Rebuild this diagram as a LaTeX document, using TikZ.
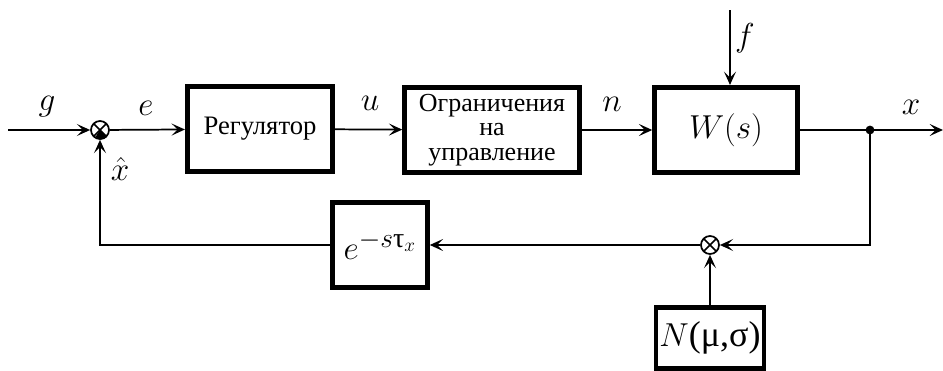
\documentclass[tikz,border=0pt]{standalone}
\usepackage{amsmath}
\usepackage{fontspec}
\newfontfamily\serifcyr{Liberation Serif}
\usetikzlibrary{arrows.meta}
\tikzset{
  px/.style={x=0.75pt,y=-0.75pt},
  blk/.style={draw,line width=3.6pt,inner sep=0pt,align=center},
  sig/.style={line width=1.3pt,-{Stealth[length=10pt,width=9pt,inset=4.5pt]}},
  wire/.style={line width=1.3pt},
  lbl/.style={font=\fontsize{24}{26}\selectfont,inner sep=0pt},
  sumj/.style={circle,draw,line width=1.3pt,minimum size=13.5pt,inner sep=0pt,
    path picture={\draw[line width=1.3pt]
      (path picture bounding box.north west)--(path picture bounding box.south east)
      (path picture bounding box.north east)--(path picture bounding box.south west);}},
}
\begin{document}
\begin{tikzpicture}[px]
\useasboundingbox (0,0) rectangle (943,371);
% forward path blocks
\node[blk,minimum width=109pt,minimum height=64pt,font=\serifcyr\fontsize{20}{22}\selectfont] (reg) at (260,129) {Регулятор};
\node[blk,minimum width=131pt,minimum height=64pt,font=\serifcyr\fontsize{19.5}{18.5}\selectfont] (lim) at (492,130) {Ограничения\\на\\управление};
\node[blk,minimum width=107pt,minimum height=64pt,font=\fontsize{27}{30}\selectfont] (plant) at (726,130) {$W(s)$};
% feedback path blocks
\node[blk,minimum width=71pt,minimum height=64pt,font=\fontsize{30}{32}\selectfont] (del) at (380,245)
  {$e^{-s\text{\serifcyr τ}_x}$};
\node[blk,minimum width=81pt,minimum height=46pt,font=\fontsize{27}{30}\selectfont] (noise) at (710,338) {$N${\serifcyr(μ,σ)}};
% summing junctions
\node[sumj] (s1) at (100,130) {};
\fill (s1.center) -- (s1.-45) arc[start angle=-45,end angle=-135,radius=6.1pt] -- cycle;
\node[sumj] (s2) at (710,245) {};
% branch point and free ends
\coordinate (in) at (8,130);
\coordinate (out) at (943,130);
\coordinate (tap) at (870,130);
\coordinate (ftop) at (730,10);
\fill (tap) circle[radius=3.3pt];
% connectors
\draw[sig] (in) -- (s1);
\draw[sig] (s1) -- (reg);
\draw[sig] (reg) -- (lim);
\draw[sig] (lim) -- (plant);
\draw[sig] (ftop) -- (ftop |- plant.north);
\draw[wire] (plant) -- (tap);
\draw[sig] (tap) -- (out);
\draw[sig] (tap) |- (s2);
\draw[sig] (noise) -- (s2);
\draw[sig] (s2) -- (del);
\draw[sig] (del.west) -| (s1);
% signal labels
\node[lbl] at (47,107) {$g$};
\node[lbl] at (146,108) {$e$};
\node[lbl] at (370,103) {$u$};
\node[lbl] at (612,104) {$n$};
\node[lbl] at (745,38) {$f$};
\node[lbl] at (911,107) {$x$};
\node[lbl] at (120,169) {$\hat{x}$};
\end{tikzpicture}
\end{document}
